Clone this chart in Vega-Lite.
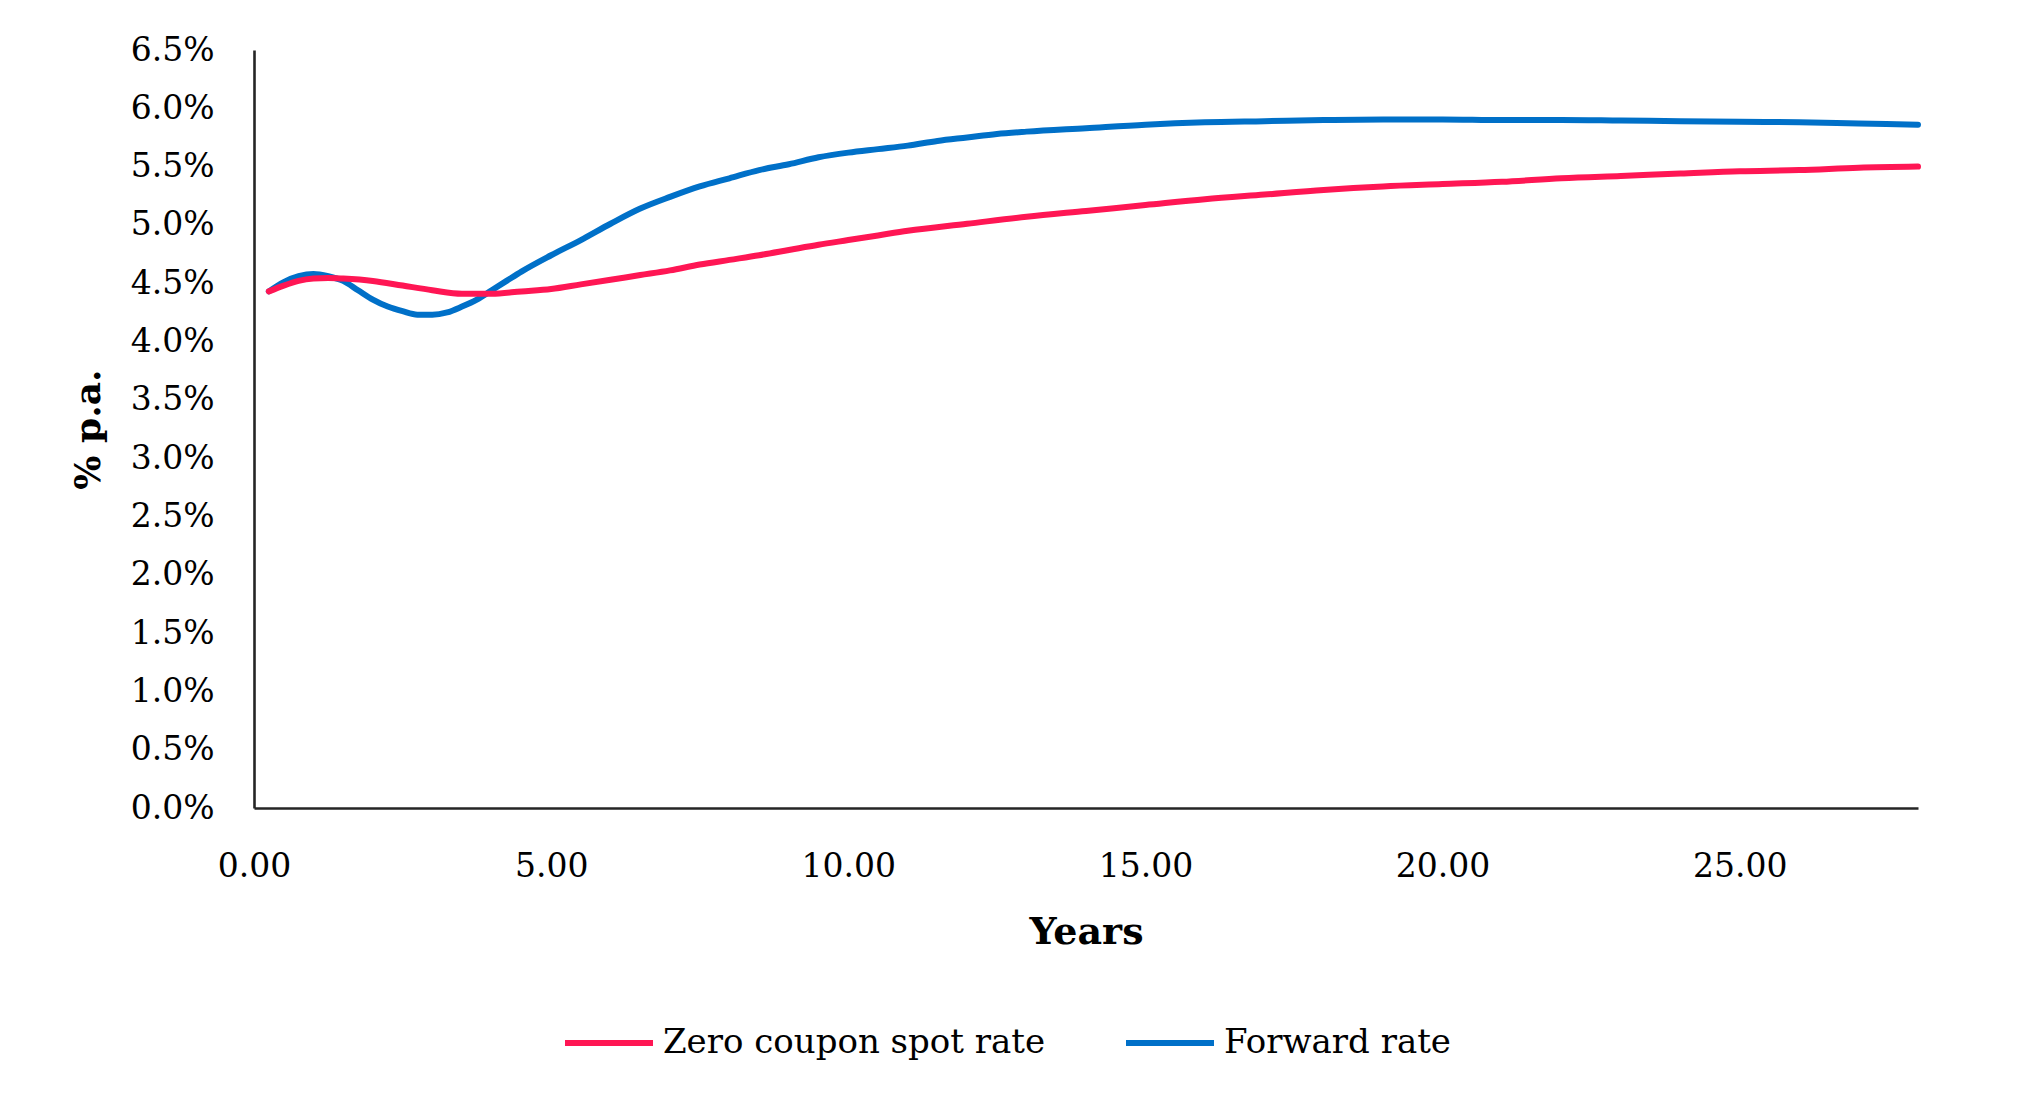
{
  "$schema": "https://vega.github.io/schema/vega-lite/v6.json",
  "autosize": "none",
  "width": 1664,
  "height": 758,
  "padding": {"left": 254, "top": 50, "right": 100, "bottom": 311},
  "background": "white",
  "config": {
    "view": {"stroke": null},
    "font": "DejaVu Serif"
  },
  "datasets": {
    "d": [
      {"series": "Forward rate", "t": 0.25, "rate": 0.0443},
      {"series": "Forward rate", "t": 0.5, "rate": 0.0451},
      {"series": "Forward rate", "t": 0.75, "rate": 0.0456},
      {"series": "Forward rate", "t": 1.0, "rate": 0.0458},
      {"series": "Forward rate", "t": 1.25, "rate": 0.0456},
      {"series": "Forward rate", "t": 1.5, "rate": 0.0452},
      {"series": "Forward rate", "t": 1.75, "rate": 0.0444},
      {"series": "Forward rate", "t": 2.0, "rate": 0.0436},
      {"series": "Forward rate", "t": 2.25, "rate": 0.0430},
      {"series": "Forward rate", "t": 2.5, "rate": 0.0426},
      {"series": "Forward rate", "t": 2.75, "rate": 0.0423},
      {"series": "Forward rate", "t": 3.0, "rate": 0.0423},
      {"series": "Forward rate", "t": 3.25, "rate": 0.0425},
      {"series": "Forward rate", "t": 3.5, "rate": 0.0430},
      {"series": "Forward rate", "t": 3.75, "rate": 0.0436},
      {"series": "Forward rate", "t": 4.0, "rate": 0.0444},
      {"series": "Forward rate", "t": 4.25, "rate": 0.0452},
      {"series": "Forward rate", "t": 4.5, "rate": 0.0460},
      {"series": "Forward rate", "t": 5.0, "rate": 0.0474},
      {"series": "Forward rate", "t": 5.5, "rate": 0.0487},
      {"series": "Forward rate", "t": 6.0, "rate": 0.0501},
      {"series": "Forward rate", "t": 6.5, "rate": 0.0514},
      {"series": "Forward rate", "t": 7.0, "rate": 0.0524},
      {"series": "Forward rate", "t": 7.5, "rate": 0.0533},
      {"series": "Forward rate", "t": 8.0, "rate": 0.0540},
      {"series": "Forward rate", "t": 8.5, "rate": 0.0547},
      {"series": "Forward rate", "t": 9.0, "rate": 0.0552},
      {"series": "Forward rate", "t": 9.5, "rate": 0.0558},
      {"series": "Forward rate", "t": 10.0, "rate": 0.0562},
      {"series": "Forward rate", "t": 10.5, "rate": 0.0565},
      {"series": "Forward rate", "t": 11.0, "rate": 0.0568},
      {"series": "Forward rate", "t": 11.5, "rate": 0.0572},
      {"series": "Forward rate", "t": 12.0, "rate": 0.0575},
      {"series": "Forward rate", "t": 12.5, "rate": 0.0578},
      {"series": "Forward rate", "t": 13.0, "rate": 0.0580},
      {"series": "Forward rate", "t": 14.0, "rate": 0.0583},
      {"series": "Forward rate", "t": 15.0, "rate": 0.0586},
      {"series": "Forward rate", "t": 16.0, "rate": 0.0588},
      {"series": "Forward rate", "t": 17.0, "rate": 0.0589},
      {"series": "Forward rate", "t": 18.0, "rate": 0.0590},
      {"series": "Forward rate", "t": 19.0, "rate": 0.05905},
      {"series": "Forward rate", "t": 20.0, "rate": 0.05905},
      {"series": "Forward rate", "t": 21.0, "rate": 0.0590},
      {"series": "Forward rate", "t": 22.0, "rate": 0.0590},
      {"series": "Forward rate", "t": 23.0, "rate": 0.05895},
      {"series": "Forward rate", "t": 24.0, "rate": 0.0589},
      {"series": "Forward rate", "t": 25.0, "rate": 0.05885},
      {"series": "Forward rate", "t": 26.0, "rate": 0.0588},
      {"series": "Forward rate", "t": 27.0, "rate": 0.0587},
      {"series": "Forward rate", "t": 28.0, "rate": 0.0586},
      {"series": "Zero coupon spot rate", "t": 0.25, "rate": 0.0443},
      {"series": "Zero coupon spot rate", "t": 0.5, "rate": 0.0448},
      {"series": "Zero coupon spot rate", "t": 0.75, "rate": 0.0452},
      {"series": "Zero coupon spot rate", "t": 1.0, "rate": 0.0454},
      {"series": "Zero coupon spot rate", "t": 1.25, "rate": 0.04545},
      {"series": "Zero coupon spot rate", "t": 1.5, "rate": 0.0454},
      {"series": "Zero coupon spot rate", "t": 2.0, "rate": 0.0452},
      {"series": "Zero coupon spot rate", "t": 2.5, "rate": 0.0448},
      {"series": "Zero coupon spot rate", "t": 3.0, "rate": 0.0444},
      {"series": "Zero coupon spot rate", "t": 3.5, "rate": 0.0441},
      {"series": "Zero coupon spot rate", "t": 4.0, "rate": 0.0441},
      {"series": "Zero coupon spot rate", "t": 4.5, "rate": 0.0443},
      {"series": "Zero coupon spot rate", "t": 5.0, "rate": 0.0445},
      {"series": "Zero coupon spot rate", "t": 5.5, "rate": 0.0449},
      {"series": "Zero coupon spot rate", "t": 6.0, "rate": 0.0453},
      {"series": "Zero coupon spot rate", "t": 6.5, "rate": 0.0457},
      {"series": "Zero coupon spot rate", "t": 7.0, "rate": 0.0461},
      {"series": "Zero coupon spot rate", "t": 7.5, "rate": 0.0466},
      {"series": "Zero coupon spot rate", "t": 8.0, "rate": 0.0470},
      {"series": "Zero coupon spot rate", "t": 8.5, "rate": 0.0474},
      {"series": "Zero coupon spot rate", "t": 9.0, "rate": 0.04785},
      {"series": "Zero coupon spot rate", "t": 9.5, "rate": 0.0483},
      {"series": "Zero coupon spot rate", "t": 10.0, "rate": 0.0487},
      {"series": "Zero coupon spot rate", "t": 10.5, "rate": 0.0491},
      {"series": "Zero coupon spot rate", "t": 11.0, "rate": 0.0495},
      {"series": "Zero coupon spot rate", "t": 12.0, "rate": 0.0501},
      {"series": "Zero coupon spot rate", "t": 13.0, "rate": 0.0507},
      {"series": "Zero coupon spot rate", "t": 14.0, "rate": 0.0512},
      {"series": "Zero coupon spot rate", "t": 15.0, "rate": 0.0517},
      {"series": "Zero coupon spot rate", "t": 16.0, "rate": 0.0522},
      {"series": "Zero coupon spot rate", "t": 17.0, "rate": 0.0526},
      {"series": "Zero coupon spot rate", "t": 18.0, "rate": 0.0530},
      {"series": "Zero coupon spot rate", "t": 19.0, "rate": 0.0533},
      {"series": "Zero coupon spot rate", "t": 20.0, "rate": 0.0535},
      {"series": "Zero coupon spot rate", "t": 21.0, "rate": 0.0537},
      {"series": "Zero coupon spot rate", "t": 22.0, "rate": 0.0540},
      {"series": "Zero coupon spot rate", "t": 23.0, "rate": 0.0542},
      {"series": "Zero coupon spot rate", "t": 24.0, "rate": 0.0544},
      {"series": "Zero coupon spot rate", "t": 25.0, "rate": 0.0546},
      {"series": "Zero coupon spot rate", "t": 26.0, "rate": 0.0547},
      {"series": "Zero coupon spot rate", "t": 27.0, "rate": 0.0549},
      {"series": "Zero coupon spot rate", "t": 28.0, "rate": 0.0550}
    ]
  },
  "data": {"name": "d"},
  "mark": {"type": "line", "strokeWidth": 6, "strokeCap": "round", "strokeJoin": "round", "interpolate": "monotone", "clip": false},
  "encoding": {
    "x": {
      "field": "t", "type": "quantitative",
      "scale": {"domain": [0, 28], "nice": false, "zero": false},
      "axis": {
        "title": "Years",
        "values": [0, 5, 10, 15, 20, 25],
        "format": ".2f",
        "grid": false, "ticks": false,
        "domainColor": "#252525", "domainWidth": 2.6,
        "labelFont": "DejaVu Serif", "labelFontSize": 33, "labelColor": "#000000",
        "labelPadding": 42, "labelFlush": false,
        "titleFont": "DejaVu Serif", "titleFontSize": 38, "titleFontWeight": "bold", "titleColor": "#000000",
        "titleY": 124, "titleBaseline": "middle"
      }
    },
    "y": {
      "field": "rate", "type": "quantitative",
      "scale": {"domain": [0, 0.065], "nice": false},
      "axis": {
        "title": "% p.a.",
        "values": [0, 0.005, 0.01, 0.015, 0.02, 0.025, 0.03, 0.035, 0.04, 0.045, 0.05, 0.055, 0.06, 0.065],
        "format": ".1%",
        "grid": false, "ticks": false,
        "domainColor": "#252525", "domainWidth": 2.6,
        "labelFont": "DejaVu Serif", "labelFontSize": 33, "labelColor": "#000000",
        "labelPadding": 40, "labelFlush": false,
        "titleFont": "DejaVu Serif", "titleFontSize": 36, "titleFontWeight": "bold", "titleColor": "#000000",
        "titleX": -166, "titleY": 379, "titleAngle": -90, "titleBaseline": "middle", "titleAlign": "center"
      }
    },
    "color": {
      "field": "series", "type": "nominal",
      "scale": {"domain": ["Zero coupon spot rate", "Forward rate"], "range": ["#FF1654", "#0070C8"]},
      "legend": {
        "title": null,
        "orient": "none",
        "direction": "horizontal",
        "legendX": 308,
        "legendY": 946,
        "symbolType": "stroke",
        "symbolSize": 7744,
        "symbolStrokeWidth": 6,
        "labelFont": "DejaVu Serif", "labelFontSize": 34, "labelColor": "#000000",
        "labelOffset": 7,
        "columnPadding": 68,
        "labelLimit": 0
      }
    }
  }
}
